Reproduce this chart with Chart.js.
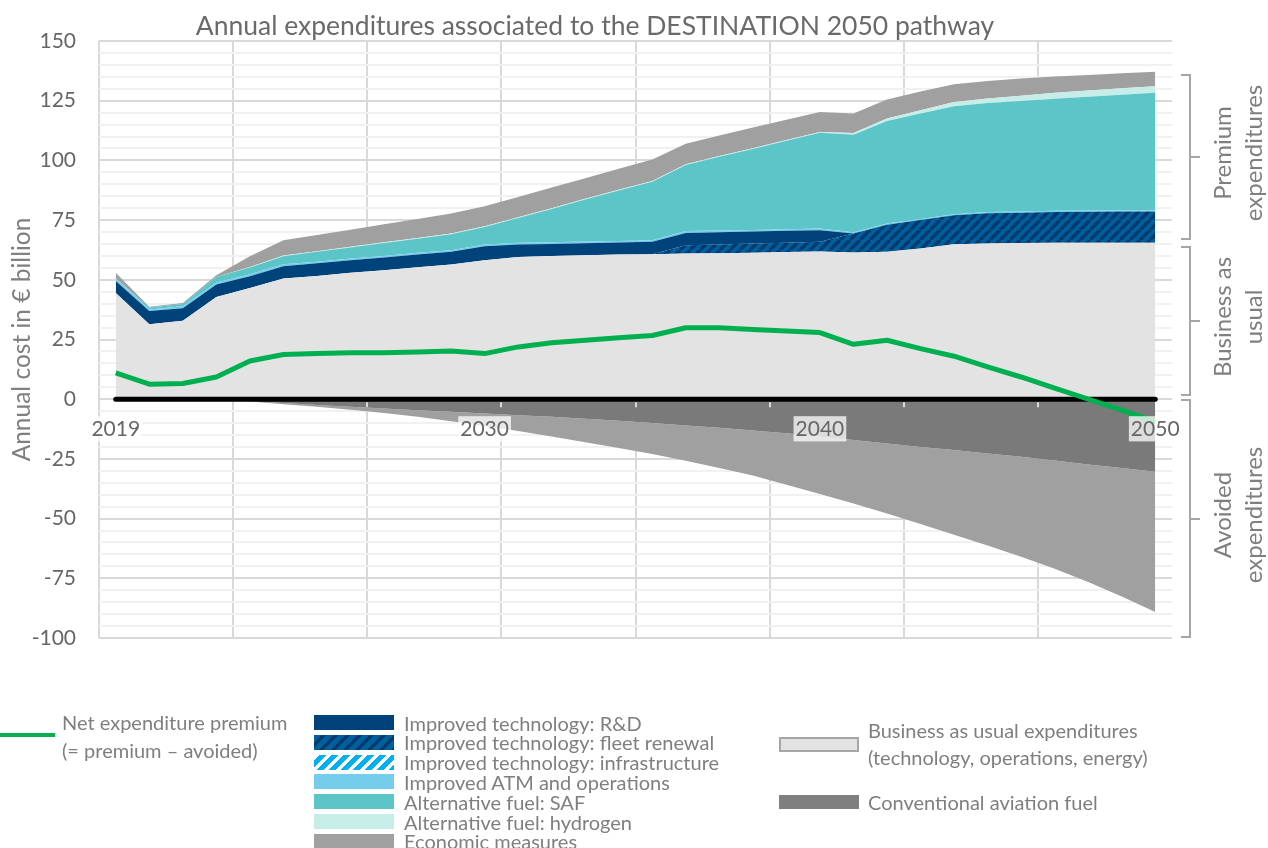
<!DOCTYPE html>
<html>
<head>
<meta charset="utf-8">
<script src="https://cdn.jsdelivr.net/npm/chart.js@4.4.1/dist/chart.umd.min.js"></script>
<style>
html,body{margin:0;padding:0;background:#fff;}
#wrap{position:relative;width:1268px;height:848px;overflow:hidden;font-family:Lato,"Open Sans",sans-serif;background:#fff;}
#c{position:absolute;left:0;top:0;}
.lt{position:absolute;color:#7f7f7f;font-size:20px;line-height:20px;height:20px;white-space:nowrap;}
.sw{position:absolute;box-sizing:border-box;}
</style>
</head>
<body>
<div id="wrap">
<canvas id="c" width="1268" height="848"></canvas>
<div id="legend"></div>
</div>
<script>
// ---------------- data ----------------
const years = ['2019','2020','2021','2022','2023','2024','2025','2026','2027','2028','2029','2030','2031','2032','2033','2034','2035','2036','2037','2038','2039','2040','2041','2042','2043','2044','2045','2046','2047','2048','2049','2050'];
const shownYearLabels = ['2019','2030','2040','2050'];

const businessAsUsual = [44.5,31.4,32.8,42.8,46.6,50.5,51.6,52.9,54.0,55.3,56.4,58.2,59.6,60.0,60.3,60.6,60.7,61.0,61.1,61.3,61.6,61.9,61.4,61.7,63.1,64.9,65.2,65.4,65.5,65.5,65.5,65.5];
const fleetRenewal   = [0,0,0,0,0,0,0,0,0,0,0,0,0,0,0,0,0,3.5,3.7,3.9,3.9,4.0,8.0,11.4,11.9,12.1,12.7,12.7,12.9,13.0,13.1,13.1];
const researchDev    = [5.0,5.5,5.3,5.2,4.9,5.2,5.3,5.3,5.3,5.3,5.3,5.9,5.2,5.0,5.0,5.0,5.2,5.1,5.1,5.0,5.0,4.9,0,0,0,0,0,0,0,0,0,0];
const infrastructure = [0,0,0,0,0,0,0,0,0,0,0,0,0,0,0,0,0,0,0,0,0,0,0,0,0,0,0,0,0,0,0,0];
const atmOperations  = [1.0,0.7,0.8,0.9,0.8,0.8,0.7,0.7,0.7,0.7,0.7,0.7,0.7,0.7,0.7,0.7,0.7,0.8,0.7,0.7,0.7,0.7,0.5,0.5,0.5,0.5,0.5,0.5,0.5,0.5,0.5,0.5];
const safFuel        = [0,0.8,1.0,2.3,2.8,3.4,4.1,4.6,5.4,5.9,6.7,7.3,10.4,14.0,17.6,21.1,24.5,27.7,30.9,33.9,37.0,40.1,40.8,42.9,44.1,45.2,45.6,46.3,46.9,47.7,48.4,49.2];
const hydrogenFuel   = [0,0,0,0,0.3,0.3,0.3,0.3,0.3,0.3,0.3,0.3,0.3,0.3,0.3,0.3,0.3,0.3,0.3,0.3,0.3,0.3,0.8,1.0,1.4,1.8,1.9,2.2,2.5,2.6,2.7,2.8];
const economicMeasures = [2.4,0.3,0.4,0.7,4.5,6.4,6.8,7.2,7.6,8.0,8.4,8.4,8.5,8.6,8.6,8.8,9.0,8.6,8.6,8.7,8.5,8.4,8.1,8.0,7.9,7.4,7.4,7.2,6.8,6.5,6.3,6.0];
const conventionalFuel = [0,0,0,0,-0.8,-1.6,-2.4,-3.2,-3.9,-4.6,-5.3,-6.0,-6.7,-7.4,-8.2,-9.0,-10.0,-11.0,-12.0,-13.1,-14.3,-15.7,-17.1,-18.6,-20.0,-21.3,-22.7,-24.1,-25.7,-27.3,-28.8,-30.4];
const avoidedOther   = [0,0,0,0,-0.2,-0.5,-0.8,-1.2,-1.9,-2.8,-3.9,-5.2,-6.6,-8.2,-9.8,-11.4,-13.0,-14.8,-16.8,-18.9,-21.5,-24.0,-26.6,-29.3,-32.3,-35.5,-38.6,-41.9,-45.3,-49.2,-53.8,-58.7];
const netPremium     = [11.0,6.3,6.6,9.3,16.0,18.7,19.1,19.4,19.5,19.8,20.2,19.1,21.9,23.6,24.7,25.7,26.7,29.9,29.9,29.2,28.6,27.9,23.0,24.7,21.2,18.0,13.5,9.3,4.6,0.0,-4.6,-9.5];
const zeroLine       = [0,0,0,0,0,0,0,0,0,0,0,0,0,0,0,0,0,0,0,0,0,0,0,0,0,0,0,0,0,0,0,0];

// side brackets (value ranges on the y axis)
const bracketTop    = [135.7, 63.6, -0.4];
const bracketBottom = [67.0, 1.7, -99.7];
const bracketText   = [['Premium','expenditures'],['Business as','usual'],['Avoided','expenditures']];

// ---------------- styles ----------------
const C = {
  bau:'#e3e3e3', fleet:'#005f9e', fleetStripe:'#003b6d', rnd:'#00437a',
  infra:'#ffffff', infraStripe:'#00b0f0', atm:'#75cdec', saf:'#5cc5c7',
  h2:'#c6ede8', econ:'#a0a0a0', fuel:'#7a7a7a', net:'#00b050'
};
function stripes(bg, fg, size, w) {
  const c = document.createElement('canvas'); c.width = size; c.height = size;
  const g = c.getContext('2d');
  g.fillStyle = bg; g.fillRect(0,0,size,size);
  g.strokeStyle = fg; g.lineWidth = w;
  for (const o of [-size, 0, size]) { g.beginPath(); g.moveTo(o, size); g.lineTo(o+size, 0); g.stroke(); }
  return g.createPattern(c, 'repeat');
}
const fleetPattern = stripes(C.fleet, C.fleetStripe, 10, 3.5);
const infraPattern = stripes(C.infra, C.infraStripe, 10, 5);

function area(label, data, color, stack, fill) {
  return {label, data, backgroundColor: color, borderColor:'rgba(0,0,0,0)', borderWidth:0,
    pointRadius:0, fill, stack, tension:0};
}

const datasets = [
  {label:'Net expenditure premium', data: netPremium, borderColor: C.net, borderWidth:5, pointRadius:0, fill:false, stack:'net', tension:0, borderJoinStyle:'round'},
  {label:'zero', data: zeroLine, borderColor:'#000', borderWidth:5, pointRadius:0, fill:false, stack:'zero', borderCapStyle:'round'},
  area('Business as usual expenditures', businessAsUsual, C.bau, 'pos', 'origin'),
  area('Improved technology: fleet renewal', fleetRenewal, fleetPattern, 'pos', '-1'),
  area('Improved technology: R&D', researchDev, C.rnd, 'pos', '-1'),
  area('Improved technology: infrastructure', infrastructure, infraPattern, 'pos', '-1'),
  area('Improved ATM and operations', atmOperations, C.atm, 'pos', '-1'),
  area('Alternative fuel: SAF', safFuel, C.saf, 'pos', '-1'),
  area('Alternative fuel: hydrogen', hydrogenFuel, C.h2, 'pos', '-1'),
  area('Economic measures', economicMeasures, C.econ, 'pos', '-1'),
  area('Conventional aviation fuel', conventionalFuel, C.fuel, 'neg', 'origin'),
  area('Avoided expenditures (other)', avoidedOther, C.econ, 'neg', '-1')
];

const decor = {
  id:'decor',
  afterDatasetsDraw(chart) {
    const {ctx, scales:{x, y}} = chart;
    const y0 = y.getPixelForValue(0);
    ctx.save();
    ctx.strokeStyle = '#d9d9d9'; ctx.lineWidth = 2;
    for (let i = 4; i < years.length; i += 4) {
      const px = Math.round((x.getPixelForValue(i-1) + x.getPixelForValue(i)) / 2);
      ctx.beginPath(); ctx.moveTo(px, y0 + 3); ctx.lineTo(px, y0 + 8); ctx.stroke();
    }
    ctx.restore();
  },
  afterDraw(chart) {
    const {ctx, chartArea, scales:{y}} = chart;
    const r = chartArea.right;
    ctx.save();
    ctx.strokeStyle = '#a6a6a6'; ctx.lineWidth = 2;
    ctx.fillStyle = '#7f7f7f';
    ctx.font = '24px Lato, "Open Sans", sans-serif';
    ctx.textAlign = 'center'; ctx.textBaseline = 'middle';
    for (let k = 0; k < bracketTop.length; k++) {
      const t = Math.round(y.getPixelForValue(bracketTop[k]));
      const b = Math.round(y.getPixelForValue(bracketBottom[k]));
      const m = Math.round((t + b) / 2);
      const vx = r + 18;
      ctx.beginPath();
      ctx.moveTo(r + 9, t); ctx.lineTo(vx, t); ctx.lineTo(vx, b); ctx.lineTo(r + 9, b);
      ctx.moveTo(vx, m); ctx.lineTo(r + 28, m);
      ctx.stroke();
      ctx.save();
      ctx.translate(r + 67, m - 4);
      ctx.rotate(-Math.PI / 2);
      ctx.fillText(bracketText[k][0], 0, -15.5);
      ctx.fillText(bracketText[k][1], 0, 15.5);
      ctx.restore();
    }
    ctx.restore();
  }
};

new Chart(document.getElementById('c'), {
  type:'line',
  data:{labels: years, datasets},
  options:{
    responsive:false, animation:false, devicePixelRatio:1, events:[],
    layout:{padding:{left:18, right:96, top:0, bottom:210}},
    plugins:{
      legend:{display:false}, tooltip:{enabled:false},
      title:{display:true, text:'Annual expenditures associated to the DESTINATION 2050 pathway',
        color:'#6a6a6a', font:{family:'Lato', size:26.5, weight:'normal', lineHeight:1}, padding:{top:13, bottom:1.5}}
    },
    scales:{
      x:{
        type:'category', position:{y:0}, offset:true,
        border:{display:false},
        grid:{offset:true, drawTicks:false,
          color:(c)=> c.index % 4 === 0 ? '#d9d9d9' : 'rgba(0,0,0,0)',
          lineWidth:(c)=> c.index % 4 === 0 ? 2 : 0},
        ticks:{z:1, autoSkip:false, maxRotation:0, minRotation:0, padding:17,
          color:'#666', font:{family:'Lato', size:21},
          callback:function(v){ const l = this.getLabelForValue(v); return shownYearLabels.includes(l) ? l : ''; },
          showLabelBackdrop:(c)=> c.tick && shownYearLabels.includes(years[c.index]),
          backdropColor:'rgba(255,255,255,0.75)', backdropPadding:{x:2, y:0}}
      },
      y:{
        stacked:true, min:-100, max:150,
        border:{display:false},
        afterFit:(s)=>{ s.width = 81; },
        grid:{drawTicks:false,
          color:(c)=> (Math.round(c.tick.value) % 25 === 0) ? '#d9d9d9' : '#f1f1f1',
          lineWidth:2},
        ticks:{stepSize:5, autoSkip:false, padding:23, color:'#666', font:{family:'Lato', size:21},
          callback:(v)=> (Math.round(v) % 25 === 0) ? String(v) : ''},
        title:{display:true, text:'Annual cost in € billion', color:'#7f7f7f',
          font:{family:'Lato', size:24.5, lineHeight:1.2}, padding:{top:-10.7, bottom:0}}
      }
    }
  },
  plugins:[decor]
});

// ---------------- legend (HTML) ----------------
const legendMid = [
  ['Improved technology: R&D', C.rnd],
  ['Improved technology: fleet renewal', 'repeating-linear-gradient(135deg,'+C.fleet+' 0 5px,'+C.fleetStripe+' 5px 8.5px)'],
  ['Improved technology: infrastructure', 'repeating-linear-gradient(135deg,#ffffff 0 4px,'+C.infraStripe+' 4px 8.5px)'],
  ['Improved ATM and operations', C.atm],
  ['Alternative fuel: SAF', C.saf],
  ['Alternative fuel: hydrogen', C.h2],
  ['Economic measures', C.econ]
];
const L = document.getElementById('legend');
function add(html){ L.insertAdjacentHTML('beforeend', html); }
add('<div class="sw" style="left:0;top:733px;width:55px;height:4px;background:'+C.net+'"></div>');
add('<div class="lt" style="left:62px;top:712px">Net expenditure premium</div>');
add('<div class="lt" style="left:62px;top:740px">(= premium – avoided)</div>');
legendMid.forEach((it, i) => {
  const top = 715 + i * 19.8;
  add('<div class="sw" style="left:314px;top:'+top+'px;width:80px;height:15px;background:'+it[1]+'"></div>');
  add('<div class="lt" style="left:404px;top:'+(top - 2.5)+'px"></div>');
  L.lastElementChild.textContent = it[0];
});
add('<div class="sw" style="left:779px;top:737px;width:80px;height:15px;background:'+C.bau+';border:2px solid #a6a6a6"></div>');
add('<div class="lt" style="left:868px;top:720px">Business as usual expenditures</div>');
add('<div class="lt" style="left:868px;top:747px">(technology, operations, energy)</div>');
add('<div class="sw" style="left:779px;top:795px;width:80px;height:14px;background:#7f7f7f"></div>');
add('<div class="lt" style="left:868px;top:792px">Conventional aviation fuel</div>');
</script>
</body>
</html>
